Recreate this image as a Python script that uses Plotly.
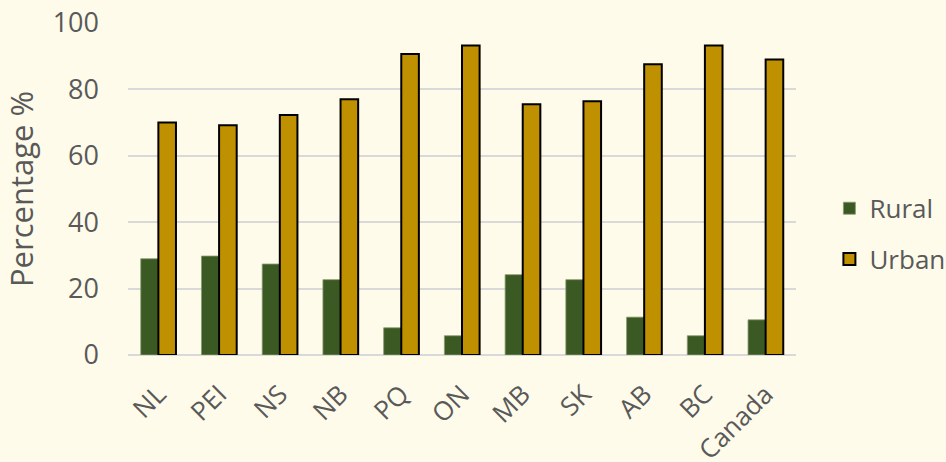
import plotly.graph_objects as go

categories = ["NL", "PEI", "NS", "NB", "PQ", "ON", "MB", "SK", "AB", "BC", "Canada"]
rural = [29.0, 29.8, 27.4, 22.7, 8.2, 5.8, 24.2, 22.7, 11.4, 5.8, 10.6]
urban = [70.0, 69.2, 72.3, 77.0, 90.7, 93.2, 75.5, 76.4, 87.6, 93.2, 89.0]
y_ticks = [0, 20, 40, 60, 80, 100]

bg = "#FEFBEA"
text_col = "#595959"
font_fam = "Open Sans, Liberation Sans, sans-serif"

fig = go.Figure()
fig.add_trace(go.Bar(
    x=categories, y=rural, name="Rural", legendgroup="r",
    marker=dict(color="#3B5A23", line=dict(color="#8A9A70", width=0.8)),
))
fig.add_trace(go.Bar(
    x=categories, y=urban, name="Urban", legendgroup="u",
    marker=dict(color="#BF9000", line=dict(color="#000000", width=2)),
))

fig.update_layout(
    width=946, height=462,
    paper_bgcolor=bg, plot_bgcolor=bg,
    margin=dict(l=128, r=150, t=23, b=107, autoexpand=False),
    barmode="group", bargap=0.42, bargroupgap=0,
    font=dict(family=font_fam, color=text_col, size=26),
    showlegend=True,
    legend=dict(x=1.05, y=0.365, yanchor="middle", xanchor="left",
                font=dict(size=26, color=text_col), tracegroupgap=14,
                bgcolor="rgba(0,0,0,0)"),
    xaxis=dict(tickangle=-45, showgrid=False, showline=False, ticks="",
               automargin=False, ticklabelstandoff=18,
               tickfont=dict(size=26, color=text_col)),
    yaxis=dict(range=[0, 100], tickvals=y_ticks, showgrid=True,
               gridcolor="#D9D9D9", gridwidth=1.5, zeroline=True,
               zerolinecolor="#D9D9D9", zerolinewidth=1.5,
               automargin=False,
               ticks="", ticklabelstandoff=28,
               title=dict(text="Percentage %", font=dict(size=31, color=text_col), standoff=14),
               tickfont=dict(size=27, color=text_col)),
)

fig.write_html("out.html", config={"displayModeBar": False},
               post_script="document.body.style.margin='0';document.body.style.background='%s';" % bg)
